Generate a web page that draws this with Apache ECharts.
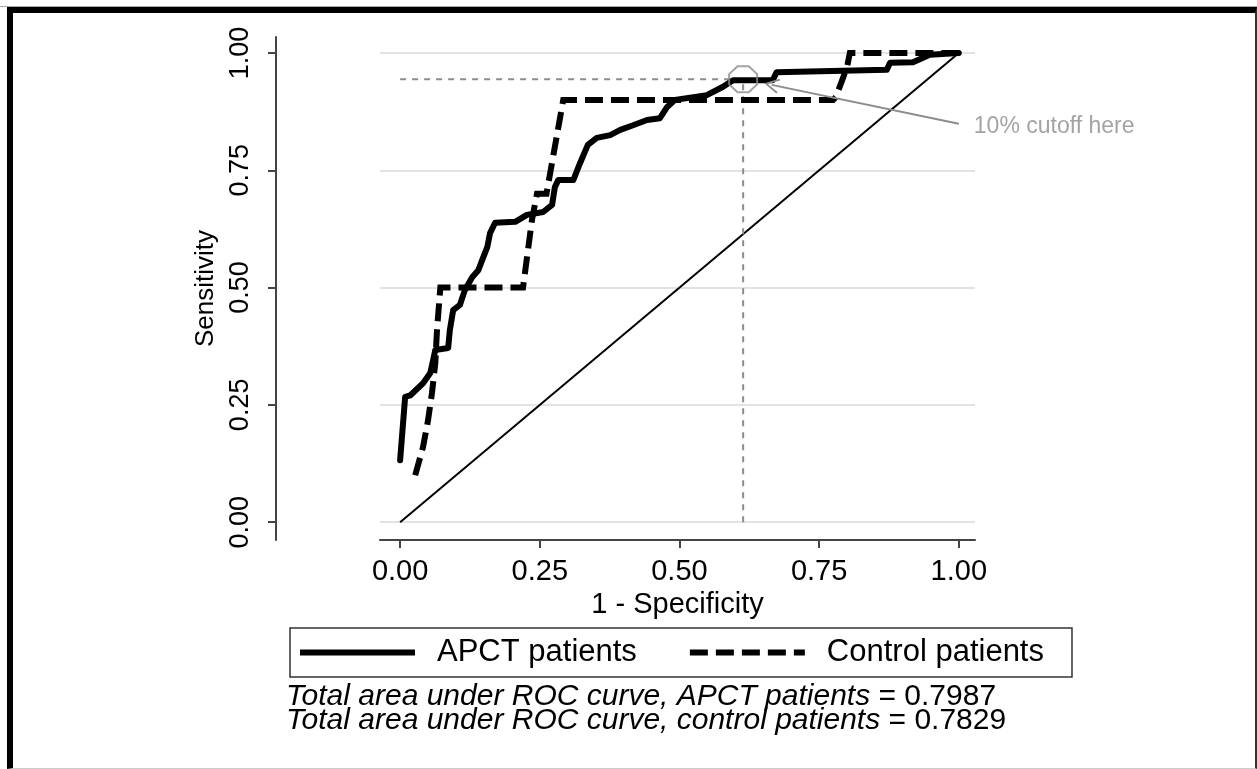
<!DOCTYPE html>
<html>
<head>
<meta charset="utf-8">
<script src="https://cdn.jsdelivr.net/npm/echarts@6/dist/echarts.min.js"></script>
<style>
html,body{margin:0;padding:0;background:#fff;}
#chart{position:absolute;left:0;top:0;width:1257px;height:769px;}
#frame{position:absolute;left:7px;top:7px;width:1242px;height:755px;border-top:6px solid #000;border-left:6px solid #000;border-right:2px solid #333;border-bottom:1px solid #ccc;pointer-events:none;}
#frameTop{position:absolute;left:0;top:6px;width:1257px;height:1px;background:#aaa;pointer-events:none;}
</style>
</head>
<body>
<div id="chart"></div>
<div id="frameTop"></div>
<div id="frame"></div>
<script>
// ---- data ----
const axisTicks = [0, 0.25, 0.5, 0.75, 1];
const seriesNames = ['APCT patients', 'Control patients'];

const apctX = [0.000, 0.009, 0.018, 0.041, 0.054, 0.059, 0.063, 0.086, 0.089, 0.095, 0.107, 0.116, 0.129, 0.140, 0.147, 0.156, 0.161, 0.170, 0.206, 0.227, 0.256, 0.272, 0.277, 0.283, 0.310, 0.322, 0.336, 0.352, 0.376, 0.394, 0.417, 0.442, 0.465, 0.478, 0.492, 0.549, 0.578, 0.596, 0.667, 0.674, 0.871, 0.877, 0.918, 0.948, 1.000];
const apctY = [0.132, 0.267, 0.270, 0.296, 0.318, 0.345, 0.367, 0.371, 0.409, 0.452, 0.463, 0.495, 0.522, 0.537, 0.559, 0.586, 0.616, 0.638, 0.640, 0.655, 0.661, 0.676, 0.714, 0.729, 0.729, 0.765, 0.804, 0.819, 0.825, 0.836, 0.846, 0.857, 0.861, 0.885, 0.900, 0.910, 0.928, 0.942, 0.942, 0.959, 0.964, 0.979, 0.980, 0.996, 1.000];

const controlX = [0.027, 0.041, 0.050, 0.057, 0.063, 0.066, 0.072, 0.220, 0.236, 0.245, 0.262, 0.292, 0.775, 0.780, 0.800, 0.805, 1.000];
const controlY = [0.100, 0.160, 0.217, 0.275, 0.339, 0.409, 0.500, 0.500, 0.644, 0.700, 0.700, 0.900, 0.900, 0.906, 0.970, 1.000, 1.000];

const referenceLine = [[0, 0], [1, 1]];
const cutoffPoint = [0.614, 0.944];
const arrowFrom = [1.0, 0.849];
const arrowTo = [0.665, 0.932];
const cutoffText = '10% cutoff here';

const aucLabels = ['APCT patients', 'control patients'];
const aucValues = [0.7987, 0.7829];

// ---- build ----
const FONT = '"Liberation Sans", Arial, Helvetica, sans-serif';
const GRAY = '#8c8c8c';
const zip = (xs, ys) => xs.map((x, i) => [x, ys[i]]);

const aucText = aucLabels.map((l, i) =>
  '{i|Total area under ROC curve, ' + l + '} {n|= ' + aucValues[i].toFixed(4) + '}'
).join('\n');

const solidIcon = 'path://M0,0h115v6h-115z';
const dashIcon = 'path://M0,0h18v6h-18z M26,0h18v6h-18z M52,0h18v6h-18z M78,0h18v6h-18z M104,0h11v6h-11z';

const chart = echarts.init(document.getElementById('chart'), null, {renderer: 'canvas'});
chart.setOption({
  animation: false,
  backgroundColor: '#fff',
  grid: {left: 380, right: 282, top: 37, bottom: 229, containLabel: false},
  xAxis: {
    type: 'value', min: -0.036, max: 1.029,
    axisLine: {show: true, onZero: false, lineStyle: {color: '#444', width: 2}},
    axisTick: {show: true, length: 8, customValues: axisTicks, lineStyle: {color: '#444', width: 2}},
    axisLabel: {customValues: axisTicks, margin: 17, fontSize: 29, color: '#000', fontFamily: FONT,
      formatter: v => v.toFixed(2)},
    splitLine: {show: false},
    name: '1 - Specificity', nameLocation: 'middle', nameGap: 47,
    nameTextStyle: {fontSize: 29, color: '#000', fontFamily: FONT}
  },
  yAxis: {
    type: 'value', min: -0.038, max: 1.034, offset: 104,
    axisLine: {show: true, onZero: false, lineStyle: {color: '#444', width: 2}},
    axisTick: {show: true, length: 8, customValues: axisTicks, lineStyle: {color: '#444', width: 2}},
    axisLabel: {customValues: axisTicks, rotate: 90, margin: 22, fontSize: 27, color: '#000', fontFamily: FONT,
      formatter: v => v.toFixed(2)},
    splitLine: {show: true, lineStyle: {color: '#e3e3e3', width: 2}},
    name: 'Sensitivity', nameLocation: 'middle', nameGap: 57,
    nameTextStyle: {fontSize: 26, color: '#000', fontFamily: FONT}
  },
  legend: {
    data: [
      {name: seriesNames[0], icon: solidIcon},
      {name: seriesNames[1], icon: dashIcon}
    ],
    left: 290, top: 628, orient: 'horizontal',
    padding: [9, 28, 9, 10],
    itemWidth: 115, itemHeight: 6, itemGap: 53,
    borderColor: '#333', borderWidth: 1.5,
    itemStyle: {color: '#000', borderWidth: 0},
    textStyle: {fontSize: 31, color: '#000', fontFamily: FONT, padding: [0, 0, 0, 17]}
  },
  title: {
    left: 286, top: 685, padding: 0,
    text: aucText,
    textStyle: {
      fontSize: 30, fontWeight: 'normal', color: '#000', fontFamily: FONT, lineHeight: 24,
      rich: {
        i: {fontStyle: 'italic', fontWeight: 'normal', fontSize: 30, color: '#000', fontFamily: FONT, lineHeight: 24},
        n: {fontWeight: 'normal', fontSize: 30, color: '#000', fontFamily: FONT, lineHeight: 24}
      }
    }
  },
  series: [
    {
      name: 'reference', type: 'line', data: referenceLine, symbol: 'none', silent: true,
      lineStyle: {color: '#000', width: 2}, z: 2
    },
    {
      name: 'cutoff guide', type: 'line',
      data: [[0, cutoffPoint[1]], cutoffPoint, [cutoffPoint[0], 0]],
      symbol: 'none', silent: true,
      lineStyle: {color: GRAY, width: 2, type: [6, 6]}, z: 2
    },
    {
      name: seriesNames[1], type: 'line', data: zip(controlX, controlY), symbol: 'none',
      lineStyle: {color: '#000', width: 6, type: [18, 8], cap: 'butt', join: 'miter'},
      itemStyle: {color: '#000'}, z: 3
    },
    {
      name: seriesNames[0], type: 'line', data: zip(apctX, apctY), symbol: 'none',
      lineStyle: {color: '#000', width: 6, join: 'round', cap: 'round'},
      itemStyle: {color: '#000'}, z: 4
    },
    {
      name: 'cutoff marker', type: 'scatter', data: [cutoffPoint],
      symbol: 'path://M30,0 L70,0 L100,30 L100,70 L70,100 L30,100 L0,70 L0,30 Z',
      symbolSize: [28, 26], symbolKeepAspect: false,
      itemStyle: {color: 'rgba(0,0,0,0)', borderColor: GRAY, borderWidth: 2}, z: 6, silent: true
    },
    {
      name: 'arrow', type: 'lines', coordinateSystem: 'cartesian2d',
      data: [{coords: [arrowFrom, arrowTo]}],
      symbol: ['none', 'path://M50,0 L100,85 L90,92 L50,22 L10,92 L0,85 Z'],
      symbolSize: [15, 15],
      lineStyle: {color: GRAY, width: 2, curveness: 0, opacity: 1}, z: 6, silent: true
    },
    {
      name: 'cutoff label', type: 'scatter', data: [arrowFrom], symbolSize: 2,
      itemStyle: {color: 'rgba(0,0,0,0)'}, silent: true,
      label: {show: true, position: 'right', distance: 14, offset: [0, 3], formatter: cutoffText,
        fontSize: 23, color: GRAY, fontFamily: FONT}, z: 6
    }
  ]
});
</script>
</body>
</html>
